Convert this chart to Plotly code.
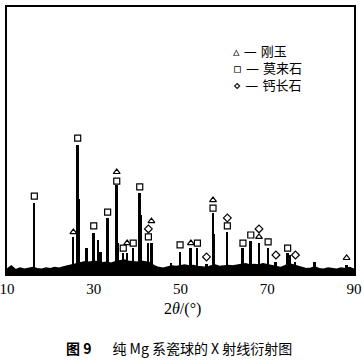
import plotly.graph_objects as go

# ---- data ----
peak_pos = [16.3, 25.3, 26.3, 26.7, 28.4, 30.0, 31.0, 31.6, 33.2, 35.3, 35.6, 36.8, 37.7,
            39.1, 40.6, 40.9, 42.6, 43.4, 47.9, 49.9, 52.4, 53.9, 56.0, 57.5, 57.8, 60.8,
            64.4, 66.2, 68.1, 70.2, 72.0, 74.7, 75.3, 76.5, 80.9, 88.3]
peak_int = [266, 139, 483, 280, 97, 154, 127, 82, 210, 333, 116, 79, 79,
            97, 303, 221, 116, 116, 41, 82, 97, 97, 37, 228, 150, 157,
            97, 124, 116, 97, 45, 79, 71, 45, 45, 34]

base_pos = [10, 11, 12, 13, 14, 15, 16, 17, 18, 19, 20, 21, 22, 23, 24, 25, 26, 27, 28, 29,
            30, 31, 32, 33, 34, 35, 36, 37, 38, 39, 40, 41, 42, 43, 44, 45, 46, 47, 48, 49,
            50, 51, 52, 53, 54, 55, 56, 57, 58, 59, 60, 61, 62, 63, 64, 65, 66, 67, 68, 69,
            70, 71, 72, 73, 74, 75, 76, 77, 78, 79, 80, 81, 82, 83, 84, 85, 86, 87, 88, 89, 90]
base_int = [18, 30, 16, 22, 18, 20, 24, 20, 18, 22, 20, 24, 22, 26, 30, 36, 40, 42, 46, 44,
            48, 46, 42, 44, 40, 46, 50, 52, 48, 46, 44, 48, 46, 42, 30, 24, 22, 26, 30, 28,
            32, 34, 30, 32, 28, 26, 24, 30, 34, 28, 30, 32, 30, 34, 36, 38, 34, 36, 34, 38,
            34, 30, 28, 24, 30, 38, 34, 30, 24, 20, 22, 26, 20, 18, 22, 20, 18, 22, 20, 24, 18]

# phase markers
corundum_x = [25.3, 35.3, 37.7, 43.3, 52.4, 57.5, 68.1, 88.3]
corundum_y = [157, 382, 116, 198, 116, 277, 139, 60]
mullite_x = [16.3, 26.3, 30.0, 33.2, 35.3, 36.8, 39.1, 40.6, 42.6, 49.9, 53.9, 57.5, 60.8,
             64.4, 66.2, 70.2, 74.7]
mullite_y = [292, 509, 180, 232, 348, 97, 116, 326, 139, 109, 116, 247, 180,
             116, 146, 120, 97]
anorthite_x = [42.6, 56.0, 60.8, 68.1, 72.0, 76.5]
anorthite_y = [169, 64, 210, 169, 71, 71]

legend_names = ["刚玉", "莫来石", "钙长石"]
legend_glyphs = ["▵", "▫", "⋄"]
x_ticks = [10, 30, 50, 70, 90]

fig = go.Figure()

fig.add_trace(go.Scatter(x=base_pos, y=base_int, mode="lines", fill="tozeroy",
                         fillcolor="black", line=dict(color="black", width=1.5),
                         showlegend=False, hoverinfo="skip"))
fig.add_trace(go.Bar(x=peak_pos, y=peak_int, width=0.45, marker=dict(color="black", line=dict(width=0)),
                     showlegend=False))

mk = dict(color="white", line=dict(color="black", width=1.2), size=6)
fig.add_trace(go.Scatter(x=corundum_x, y=corundum_y, mode="markers", name=legend_names[0],
                         marker=dict(symbol="triangle-up", **mk), showlegend=False))
fig.add_trace(go.Scatter(x=mullite_x, y=mullite_y, mode="markers", name=legend_names[1],
                         marker=dict(symbol="square", **mk), showlegend=False))
fig.add_trace(go.Scatter(x=anorthite_x, y=anorthite_y, mode="markers", name=legend_names[2],
                         marker=dict(symbol="diamond", **mk), showlegend=False))

legend_text = "<br>".join(g + " — " + n for g, n in zip(legend_glyphs, legend_names))
annotations = [
    dict(text="2<i>θ</i>/(°)", xref="paper", yref="paper", x=0.507, y=-0.13,
         xanchor="center", yanchor="middle", showarrow=False,
         font=dict(family="Liberation Serif", size=16, color="black")),
    dict(text="<b>图 9</b>\u2002\u2002\u2002纯 Mg 系瓷球的 X 射线衍射图", xref="paper", yref="paper",
         x=0.497, y=-0.277, xanchor="center", yanchor="middle", showarrow=False,
         font=dict(family="Noto Sans CJK SC", size=14, color="black")),
    dict(text=legend_text, xref="paper", yref="paper", x=0.646, y=0.87,
         xanchor="left", yanchor="top", align="left", showarrow=False,
         font=dict(family="DejaVu Sans, Noto Sans CJK SC", size=13, color="black")),
]

fig.update_layout(
    width=364, height=360,
    margin=dict(l=7, r=10, t=7, b=86, autoexpand=False),
    paper_bgcolor="white", plot_bgcolor="white",
    bargap=0,
    showlegend=False,
    xaxis=dict(range=[10, 90], tickvals=x_ticks, ticktext=[str(v) for v in x_ticks],
               showline=True, linecolor="black", linewidth=1.5, mirror=True, automargin=False,
               ticks="", showgrid=False, zeroline=False, ticklabeloverflow="allow",
               tickfont=dict(family="Liberation Serif", size=15, color="black")),
    yaxis=dict(range=[0, 1000], showticklabels=False, showline=True, linecolor="black",
               linewidth=1.5, mirror=True, ticks="", showgrid=False, zeroline=False,
               automargin=False),
    annotations=annotations,
)

fig.write_html("out.html")
